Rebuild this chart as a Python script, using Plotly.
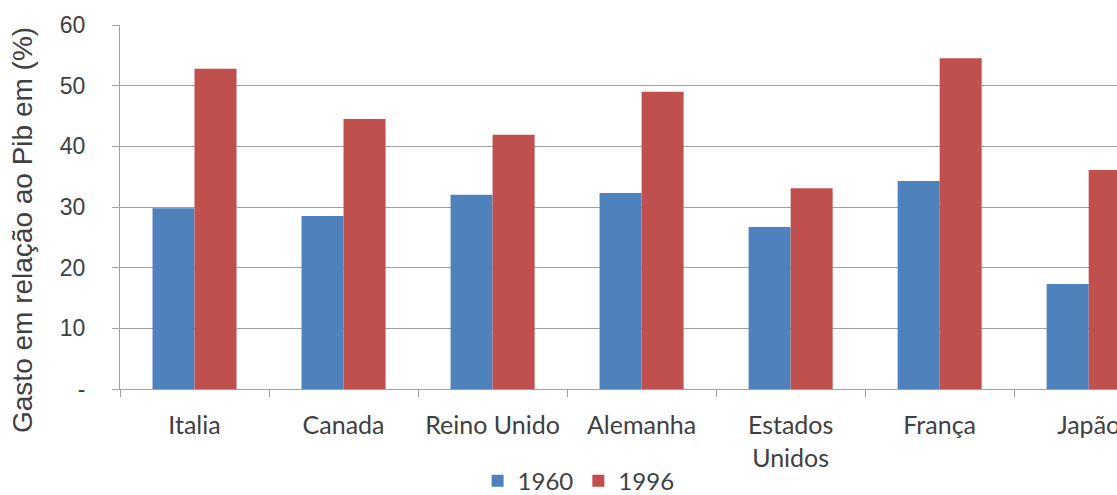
import plotly.graph_objects as go

categories = ["Italia", "Canada", "Reino Unido", "Alemanha", "Estados<br>Unidos", "França", "Japão"]
values_1960 = [29.8, 28.5, 32.0, 32.3, 26.7, 34.3, 17.3]
values_1996 = [52.8, 44.5, 41.9, 49.0, 33.1, 54.5, 36.1]
series_names = ["1960", "1996"]
y_tickvals = [0, 10, 20, 30, 40, 50, 60]
y_ticktext = ["-", "10", "20", "30", "40", "50", "60"]

BLUE = "#4F81BD"
RED = "#C0504D"
TEXT = "#404040"
GRID = "#A0A0A0"

fig = go.Figure()
fig.add_trace(go.Bar(x=categories, y=values_1960, name=series_names[0],
                     marker=dict(color=BLUE, line=dict(width=0))))
fig.add_trace(go.Bar(x=categories, y=values_1996, name=series_names[1],
                     marker=dict(color=RED, line=dict(width=0))))

fig.update_layout(
    width=1117, height=495,
    margin=dict(l=120, r=0, t=25, b=106, autoexpand=False),
    paper_bgcolor="white", plot_bgcolor="white",
    barmode="group", bargap=0.436, bargroupgap=0,
    showlegend=True,
    legend=dict(orientation="h", xref="container", yref="container",
                x=0.518, xanchor="center", y=0.028, yanchor="middle",
                font=dict(family="Lato", size=24, color=TEXT),
                itemwidth=30, tracegroupgap=0),
    xaxis=dict(range=[-0.5, 6.19], showgrid=False, showline=True, linecolor=GRID,
               linewidth=1, ticks="outside", tickson="boundaries", ticklen=7,
               tickcolor=GRID, tickfont=dict(family="Lato", size=25, color=TEXT),
               ticklabelstandoff=14),
    yaxis=dict(range=[0, 60], tickvals=y_tickvals, ticktext=y_ticktext,
               showgrid=True, gridcolor=GRID, gridwidth=1, showline=True,
               linecolor=GRID, linewidth=1, ticks="outside", ticklen=7,
               tickcolor=GRID, zeroline=False,
               tickfont=dict(family="Liberation Sans", size=23, color=TEXT),
               ticklabelstandoff=22),
    annotations=[dict(text="Gasto em relação ao Pib em (%)", textangle=-90,
                      xref="paper", yref="paper", x=0, y=0.5,
                      xanchor="center", yanchor="middle", xshift=-98, yshift=-23,
                      showarrow=False,
                      font=dict(family="Liberation Sans", size=28, color=TEXT))],
)

fig.write_html("out.html")
